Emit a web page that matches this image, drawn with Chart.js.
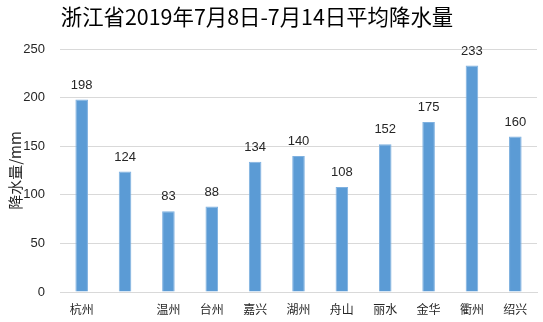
<!DOCTYPE html>
<html>
<head>
<meta charset="utf-8">
<script src="https://cdn.jsdelivr.net/npm/chart.js@4/dist/chart.umd.min.js"></script>
<style>
  html, body { margin: 0; padding: 0; background: #fff; }
  #wrap { width: 543px; height: 322px; position: relative; }
</style>
</head>
<body>
<div id="wrap"><canvas id="main-chart"></canvas></div>
<script>
const chartTitle = '浙江省2019年7月8日-7月14日平均降水量';
const cities = ['杭州', '', '温州', '台州', '嘉兴', '湖州', '舟山', '丽水', '金华', '衢州', '绍兴'];
const rainfall = [198, 124, 83, 88, 134, 140, 108, 152, 175, 233, 160];
const yTicks = [0, 50, 100, 150, 200, 250];

const tc = '#262626';

// title drawn by hand so it sits where the original does (a bit left of centre)
const titleText = {
  id: 'titleText',
  afterDraw(chart) {
    const ctx = chart.ctx;
    ctx.save();
    ctx.fillStyle = '#000';
    ctx.font = '21.4px "Noto Sans CJK SC", sans-serif';
    ctx.textAlign = 'center';
    ctx.textBaseline = 'middle';
    ctx.fillText(chartTitle, 257, 17);
    ctx.restore();
  }
};

// value labels above bars
const barLabels = {
  id: 'barLabels',
  afterDatasetsDraw(chart) {
    const ctx = chart.ctx;
    const meta = chart.getDatasetMeta(0);
    ctx.save();
    ctx.fillStyle = tc;
    ctx.font = '13px "Liberation Sans", Arial, sans-serif';
    ctx.textAlign = 'center';
    ctx.textBaseline = 'bottom';
    meta.data.forEach((bar, i) => {
      ctx.fillText(rainfall[i], bar.x, bar.y - 8);
    });
    ctx.restore();
  }
};

new Chart(document.getElementById('main-chart'), {
  type: 'bar',
  data: {
    labels: cities,
    datasets: [{
      data: rainfall,
      backgroundColor: '#5B9BD5',
      borderColor: '#7FB1E0',
      borderWidth: 1,
      barPercentage: 0.29,
      categoryPercentage: 1.0
    }]
  },
  options: {
    responsive: true, maintainAspectRatio: false,
    animation: false,
    layout: { padding: { left: 0, right: 6, top: 49, bottom: 0 } },
    plugins: {
      legend: { display: false },
      tooltip: { enabled: false },
      title: { display: false }
    },
    scales: {
      x: {
        afterFit: axis => { axis.height = 30; },
        grid: { display: false, drawTicks: false },
        border: { color: '#D9D9D9', width: 1 },
        ticks: { color: tc, font: { family: '"Noto Sans CJK SC", sans-serif', size: 12 }, maxRotation: 0, autoSkip: false, padding: 10 }
      },
      y: {
        min: 0, max: 250,
        afterBuildTicks: axis => { axis.ticks = yTicks.map(v => ({ value: v })); },
        afterFit: axis => { axis.width = 60; },
        title: { display: true, text: '降水量/mm', color: tc, font: { family: '"Noto Sans CJK SC", sans-serif', size: 15 }, padding: { top: 6, bottom: 0 } },
        grid: { color: '#D9D9D9', lineWidth: 1, drawTicks: false },
        border: { display: false },
        ticks: { color: tc, font: { family: '"Liberation Sans", Arial, sans-serif', size: 13 }, padding: 15 }
      }
    }
  },
  plugins: [barLabels, titleText]
});
</script>
</body>
</html>
